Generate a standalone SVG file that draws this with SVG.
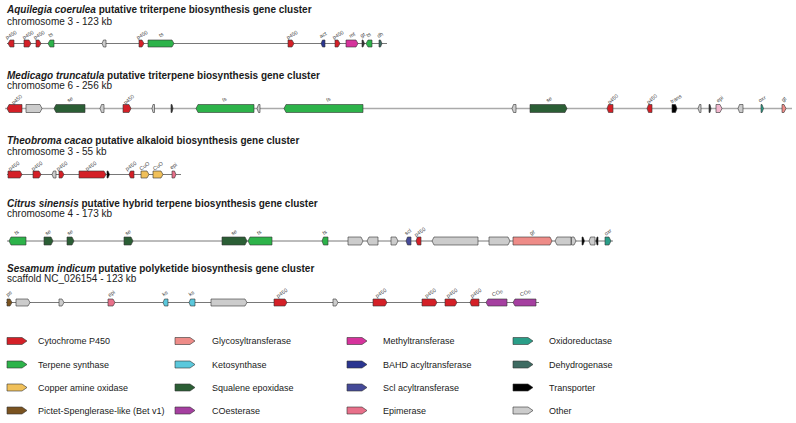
<svg xmlns="http://www.w3.org/2000/svg" width="796" height="423" viewBox="0 0 796 423">
<style>
text{font-family:"Liberation Sans",Arial,sans-serif;fill:#1a1a1a}
.title{font-size:10px;font-weight:bold}
.sub{font-size:10px}
.lg{font-size:9px}
.lb{font-size:5.4px;fill:#444;text-anchor:middle}
.ln{stroke:#555;stroke-width:0.8;fill:none}
.ln2{stroke:#aaa;stroke-width:1.5;fill:none}
polygon{stroke:#333;stroke-width:0.6}
.p450{fill:#d42027}.ts{fill:#2db34a}.cuo{fill:#f0c05a}.ps{fill:#7a5320}
.gt{fill:#ee8c88}.ks{fill:#5bc8dc}.se{fill:#2b5e35}.coe{fill:#a53fa0}
.mt{fill:#d6339c}.bahd{fill:#2a3590}.scl{fill:#454a98}.epi{fill:#e8708a}
.oxr{fill:#2a9e88}.dh{fill:#3e6b62}.tr{fill:#000}.oth{fill:#cccccc}.dk{fill:#333}.epl{fill:#f2b8cf}
</style>

<g id="connectors">
<line class="ln" x1="7" y1="43.5" x2="387" y2="43.5"/>
<line class="ln2" x1="5" y1="108.5" x2="792" y2="108.5"/>
<line class="ln" x1="7" y1="174.5" x2="181" y2="174.5"/>
<line class="ln" x1="7" y1="241" x2="613" y2="241"/>
<line class="ln" x1="6" y1="302.5" x2="539" y2="302.5"/>
</g>

<g id="track1">
<text class="title" x="7" y="12.5"><tspan font-style="italic">Aquilegia coerulea</tspan> putative triterpene biosynthesis gene cluster</text>
<text class="sub" x="7" y="25">chromosome 3 - 123 kb</text>
<g id="t1g1"><polygon class="p450" points="8,43.5 10,40 14,40 14,47 10,47"/><text class="lb" transform="rotate(-30 12 36.5)" x="12" y="36.5">p450</text></g>
<g id="t1g2"><polygon class="p450" points="24,40 29,40 31,43.5 29,47 24,47"/><text class="lb" transform="rotate(-30 29 36.5)" x="29" y="36.5">p450</text></g>
<g id="t1g3"><polygon class="p450" points="36,40 39,40 41,43.5 39,47 36,47"/><text class="lb" transform="rotate(-30 40 36.5)" x="40" y="36.5">p450</text></g>
<g id="t1g4"><polygon class="ts" points="48,43.5 50,40 54,40 54,47 50,47"/><text class="lb" transform="rotate(-30 51.5 36.5)" x="51.5" y="36.5">ts</text></g>
<g id="t1g5"><polygon class="oth" points="102,43.5 103.5,40 106,40 106,47 103.5,47"/></g>
<g id="t1g6"><polygon class="p450" points="139,40 142,40 144,43.5 142,47 139,47"/><text class="lb" transform="rotate(-30 143 36.5)" x="143" y="36.5">p450</text></g>
<g id="t1g7"><polygon class="ts" points="148,40 172,40 174,43.5 172,47 148,47"/><text class="lb" transform="rotate(-30 162 36.5)" x="162" y="36.5">ts</text></g>
<g id="t1g8"><polygon class="p450" points="288,40 292,40 294,43.5 292,47 288,47"/><text class="lb" transform="rotate(-30 293 36.5)" x="293" y="36.5">p450</text></g>
<g id="t1g9"><polygon class="bahd" points="321,43.5 322.5,40 325,40 325,47 322.5,47"/><text class="lb" transform="rotate(-30 324 36.5)" x="324" y="36.5">act</text></g>
<g id="t1g10"><polygon class="p450" points="335,40 338,40 340,43.5 338,47 335,47"/><text class="lb" transform="rotate(-30 339 36.5)" x="339" y="36.5">p450</text></g>
<g id="t1g11"><polygon class="mt" points="346,40 356,40 358,43.5 356,47 346,47"/><text class="lb" transform="rotate(-30 353 36.5)" x="353" y="36.5">mt</text></g>
<g id="t1g12"><polygon class="dk" points="362,40 363,40 364.5,43.5 363,47 362,47"/><text class="lb" transform="rotate(-30 363.5 36.5)" x="363.5" y="36.5">gt</text></g>
<g id="t1g13"><polygon class="ts" points="366,43.5 368,40 372,40 372,47 368,47"/><text class="lb" transform="rotate(-30 369.5 36.5)" x="369.5" y="36.5">ts</text></g>
<g id="t1g14"><polygon class="dh" points="379,40 380.5,40 382,43.5 380.5,47 379,47"/><text class="lb" transform="rotate(-30 381 36.5)" x="381" y="36.5">dh</text></g>
</g>

<g id="track2">
<text class="title" x="7" y="78.5"><tspan font-style="italic">Medicago truncatula</tspan> putative triterpene biosynthesis gene cluster</text>
<text class="sub" x="7" y="89">chromosome 6 - 256 kb</text>
<g id="t2g1"><polygon class="p450" points="7,108.5 9,104.5 22,104.5 22,112.5 9,112.5"/><text class="lb" transform="rotate(-40 18 101)" x="18" y="101">p450</text></g>
<g id="t2g2"><polygon class="oth" points="26,104.5 40,104.5 42,108.5 40,112.5 26,112.5"/></g>
<g id="t2g3"><polygon class="se" points="54,108.5 56,104.5 85,104.5 85,112.5 56,112.5"/><text class="lb" transform="rotate(-30 71 101)" x="71" y="101">se</text></g>
<g id="t2g4"><polygon class="oth" points="100,108.5 101.5,104.5 104,104.5 104,112.5 101.5,112.5"/></g>
<g id="t2g5"><polygon class="p450" points="123,104.5 129,104.5 131,108.5 129,112.5 123,112.5"/><text class="lb" transform="rotate(-40 130 101)" x="130" y="101">p450</text></g>
<g id="t2g6"><polygon class="oth" points="152,108.5 153,104.5 154.5,104.5 154.5,112.5 153,112.5"/></g>
<g id="t2g7"><polygon class="dk" points="171,104.5 172,104.5 173,108.5 172,112.5 171,112.5"/></g>
<g id="t2g8"><polygon class="ts" points="196,108.5 198,104.5 254,104.5 254,112.5 198,112.5"/><text class="lb" transform="rotate(-20 225 101)" x="225" y="101">ts</text></g>
<g id="t2g9"><polygon class="oth" points="257,108.5 258.5,104.5 260,104.5 260,112.5 258.5,112.5"/></g>
<g id="t2g10"><polygon class="ts" points="284,108.5 286,104.5 363,104.5 363,112.5 286,112.5"/><text class="lb" transform="rotate(-20 329 101)" x="329" y="101">ts</text></g>
<g id="t2g11"><polygon class="oth" points="512,108.5 513.5,104.5 516,104.5 516,112.5 513.5,112.5"/></g>
<g id="t2g12"><polygon class="se" points="530,104.5 565,104.5 567,108.5 565,112.5 530,112.5"/><text class="lb" transform="rotate(-30 550 101)" x="550" y="101">se</text></g>
<g id="t2g13"><polygon class="p450" points="607,108.5 608.5,104.5 613,104.5 613,112.5 608.5,112.5"/><text class="lb" transform="rotate(-40 614 100.5)" x="614" y="100.5">p450</text></g>
<g id="t2g14"><polygon class="p450" points="647,108.5 648.5,104.5 652,104.5 652,112.5 648.5,112.5"/><text class="lb" transform="rotate(-40 653 100.5)" x="653" y="100.5">p450</text></g>
<g id="t2g15"><polygon class="tr" points="672,104.5 675.5,104.5 677,108.5 675.5,112.5 672,112.5"/><text class="lb" transform="rotate(-30 677 100.5)" x="677" y="100.5">trans</text></g>
<g id="t2g16"><polygon class="oth" points="698,108.5 699.5,104.5 701,104.5 701,112.5 699.5,112.5"/></g>
<g id="t2g17"><polygon class="dk" points="709,104.5 710,104.5 711,108.5 710,112.5 709,112.5"/></g>
<g id="t2g18"><polygon class="epl" points="716,104.5 720,104.5 722,108.5 720,112.5 716,112.5"/><text class="lb" transform="rotate(-40 721 100.5)" x="721" y="100.5">epi</text></g>
<g id="t2g19"><polygon class="oth" points="738,108.5 739.5,104.5 743,104.5 743,112.5 739.5,112.5"/></g>
<g id="t2g20"><polygon class="oxr" points="761,104.5 762,104.5 763.5,108.5 762,112.5 761,112.5"/><text class="lb" transform="rotate(-30 763 100.5)" x="763" y="100.5">oxr</text></g>
<g id="t2g21"><polygon class="gt" points="782,104.5 784,104.5 786,108.5 784,112.5 782,112.5"/><text class="lb" transform="rotate(-40 785 100.5)" x="785" y="100.5">gt</text></g>
</g>

<g id="track3">
<text class="title" x="7" y="143.5"><tspan font-style="italic">Theobroma cacao</tspan> putative alkaloid biosynthesis gene cluster</text>
<text class="sub" x="7" y="154.5">chromosome 3 - 55 kb</text>
<g id="t3g1"><polygon class="p450" points="8,171 20,171 22,174.5 20,178 8,178"/><text class="lb" transform="rotate(-35 15 167.5)" x="15" y="167.5">p450</text></g>
<g id="t3g2"><polygon class="p450" points="33,171 39,171 41,174.5 39,178 33,178"/><text class="lb" transform="rotate(-35 38 167.5)" x="38" y="167.5">p450</text></g>
<g id="t3g3"><polygon class="oth" points="52,174.5 53.5,171 56,171 56,178 53.5,178"/></g>
<g id="t3g4"><polygon class="p450" points="59,171 62,171 64,174.5 62,178 59,178"/><text class="lb" transform="rotate(-35 63 167.5)" x="63" y="167.5">p450</text></g>
<g id="t3g5"><polygon class="p450" points="79,171 104,171 106,174.5 104,178 79,178"/><text class="lb" transform="rotate(-35 92 167.5)" x="92" y="167.5">p450</text></g>
<g id="t3g6"><polygon class="tr" points="107,171 108,171 109.5,174.5 108,178 107,178"/></g>
<g id="t3g7"><polygon class="p450" points="129,174.5 130.5,171 134,171 134,178 130.5,178"/><text class="lb" transform="rotate(-35 132 167.5)" x="132" y="167.5">p450</text></g>
<g id="t3g8"><polygon class="cuo" points="141,171 147,171 149,174.5 147,178 141,178"/><text class="lb" transform="rotate(-35 145.5 167.5)" x="145.5" y="167.5">CuO</text></g>
<g id="t3g9"><polygon class="cuo" points="153,171 161,171 163,174.5 161,178 153,178"/><text class="lb" transform="rotate(-35 159 167.5)" x="159" y="167.5">CuO</text></g>
<g id="t3g10"><polygon class="epi" points="172,171 174.5,171 176,174.5 174.5,178 172,178"/><text class="lb" transform="rotate(-35 174.5 167.5)" x="174.5" y="167.5">epi</text></g>
</g>

<g id="track4">
<text class="title" x="7" y="206.5"><tspan font-style="italic">Citrus sinensis</tspan> putative hybrid terpene biosynthesis gene cluster</text>
<text class="sub" x="7" y="216.5">chromosome 4 - 173 kb</text>
<g id="t4g1"><polygon class="ts" points="9,241 11,237 26,237 26,245 11,245"/><text class="lb" transform="rotate(-30 17.5 234)" x="17.5" y="234">ts</text></g>
<g id="t4g2"><polygon class="se" points="44,237 51,237 53,241 51,245 44,245"/><text class="lb" transform="rotate(-30 49 234)" x="49" y="234">se</text></g>
<g id="t4g3"><polygon class="se" points="67,237 72,237 74,241 72,245 67,245"/><text class="lb" transform="rotate(-30 71 234)" x="71" y="234">se</text></g>
<g id="t4g4"><polygon class="se" points="124,237 131,237 133,241 131,245 124,245"/><text class="lb" transform="rotate(-30 129 234)" x="129" y="234">se</text></g>
<g id="t4g5"><polygon class="se" points="222,237 245,237 247,241 245,245 222,245"/><text class="lb" transform="rotate(-30 235 234)" x="235" y="234">se</text></g>
<g id="t4g6"><polygon class="ts" points="248,241 250,237 272,237 272,245 250,245"/><text class="lb" transform="rotate(-30 260 234)" x="260" y="234">ts</text></g>
<g id="t4g7"><polygon class="ts" points="322,241 323.5,237 328,237 328,245 323.5,245"/><text class="lb" transform="rotate(-30 325.5 234)" x="325.5" y="234">ts</text></g>
<g id="t4g8"><polygon class="oth" points="348,237 361,237 363,241 361,245 348,245"/></g>
<g id="t4g9"><polygon class="oth" points="367,241 369,237 378,237 378,245 369,245"/></g>
<g id="t4g10"><polygon class="oth" points="391,237 396,237 398,241 396,245 391,245"/></g>
<g id="t4g11"><polygon class="scl" points="406,241 407.5,237 411,237 411,245 407.5,245"/><text class="lb" transform="rotate(-35 409 233.5)" x="409" y="233.5">scl</text></g>
<g id="t4g12"><polygon class="p450" points="416,241 417.5,237 421,237 421,245 417.5,245"/><text class="lb" transform="rotate(-35 421 233.5)" x="421" y="233.5">p450</text></g>
<g id="t4g13"><polygon class="oth" points="432,241 434,237 478,237 478,245 434,245"/></g>
<g id="t4g14"><polygon class="oth" points="489,237 508,237 510,241 508,245 489,245"/></g>
<g id="t4g15"><polygon class="gt" points="513,237 550,237 552,241 550,245 513,245"/><text class="lb" transform="rotate(-30 533 234)" x="533" y="234">gt</text></g>
<g id="t4g16"><polygon class="oth" points="555,241 557,237 571,237 571,245 557,245"/></g>
<g id="t4g17"><polygon class="oth" points="571.5,237 574,237 576,241 574,245 571.5,245"/></g>
<g id="t4g18"><polygon class="tr" points="582,237 583,237 584.5,241 583,245 582,245"/></g>
<g id="t4g19"><polygon class="oth" points="589,241 590.5,237 595,237 595,245 590.5,245"/></g>
<g id="t4g20"><polygon class="tr" points="596,241 597,237 598,237 598,245 597,245"/></g>
<g id="t4g21"><polygon class="oxr" points="605,237 609,237 611,241 609,245 605,245"/><text class="lb" transform="rotate(-35 609 233.5)" x="609" y="233.5">oxr</text></g>
</g>

<g id="track5">
<text class="title" x="7" y="271.5"><tspan font-style="italic">Sesamum indicum</tspan> putative polyketide biosynthesis gene cluster</text>
<text class="sub" x="7" y="281.5">scaffold NC_026154 - 123 kb</text>
<g id="t5g1"><polygon class="ps" points="7,299 10,299 12,302.5 10,306 7,306"/><text class="lb" transform="rotate(-35 10 295)" x="10" y="295">ps</text></g>
<g id="t5g2"><polygon class="oth" points="16,299 28,299 30,302.5 28,306 16,306"/></g>
<g id="t5g3"><polygon class="oth" points="59,299 62,299 64,302.5 62,306 59,306"/></g>
<g id="t5g4"><polygon class="epi" points="108,299 113,299 115,302.5 113,306 108,306"/><text class="lb" transform="rotate(-35 112.5 295)" x="112.5" y="295">epi</text></g>
<g id="t5g5"><polygon class="ks" points="163,302.5 164.5,299 168,299 168,306 164.5,306"/><text class="lb" transform="rotate(-35 166 295)" x="166" y="295">ks</text></g>
<g id="t5g6"><polygon class="ks" points="189,302.5 190.5,299 195,299 195,306 190.5,306"/><text class="lb" transform="rotate(-35 192.5 295)" x="192.5" y="295">ks</text></g>
<g id="t5g7"><polygon class="oth" points="211,299 245,299 247,302.5 245,306 211,306"/></g>
<g id="t5g8"><polygon class="p450" points="274,299 285,299 287,302.5 285,306 274,306"/><text class="lb" transform="rotate(-35 283 294.5)" x="283" y="294.5">p450</text></g>
<g id="t5g9"><polygon class="oth" points="333,299 336,299 338,302.5 336,306 333,306"/></g>
<g id="t5g10"><polygon class="p450" points="373,299 385,299 387,302.5 385,306 373,306"/><text class="lb" transform="rotate(-35 382 294.5)" x="382" y="294.5">p450</text></g>
<g id="t5g11"><polygon class="p450" points="422,299 435,299 437,302.5 435,306 422,306"/><text class="lb" transform="rotate(-35 431.5 294.5)" x="431.5" y="294.5">p450</text></g>
<g id="t5g12"><polygon class="p450" points="445,299 455,299 457,302.5 455,306 445,306"/><text class="lb" transform="rotate(-35 453 294.5)" x="453" y="294.5">p450</text></g>
<g id="t5g13"><polygon class="p450" points="470,302.5 471.5,299 479,299 479,306 471.5,306"/><text class="lb" transform="rotate(-35 477 294.5)" x="477" y="294.5">p450</text></g>
<g id="t5g14"><polygon class="coe" points="486,302.5 488,299 507,299 507,306 488,306"/><text class="lb" transform="rotate(-20 498 294.5)" x="498" y="294.5">COe</text></g>
<g id="t5g15"><polygon class="coe" points="513,302.5 515,299 536,299 536,306 515,306"/><text class="lb" transform="rotate(-20 526 294.5)" x="526" y="294.5">COe</text></g>
</g>

<g id="legend">
<defs><polygon id="la" points="0,-3.5 15,-3.5 20,0 15,3.5 0,3.5"/></defs>
<g id="lg1"><use href="#la" x="7" y="341" class="p450"/><text class="lg" x="38" y="344">Cytochrome P450</text></g>
<g id="lg2"><use href="#la" x="7" y="364.5" class="ts"/><text class="lg" x="38" y="367.5">Terpene synthase</text></g>
<g id="lg3"><use href="#la" x="7" y="387.5" class="cuo"/><text class="lg" x="38" y="390.5">Copper amine oxidase</text></g>
<g id="lg4"><use href="#la" x="7" y="410.5" class="ps"/><text class="lg" x="38" y="413.5">Pictet-Spenglerase-like (Bet v1)</text></g>
<g id="lg5"><use href="#la" x="175" y="341" class="gt"/><text class="lg" x="212" y="344">Glycosyltransferase</text></g>
<g id="lg6"><use href="#la" x="175" y="364.5" class="ks"/><text class="lg" x="212" y="367.5">Ketosynthase</text></g>
<g id="lg7"><use href="#la" x="175" y="387.5" class="se"/><text class="lg" x="212" y="390.5">Squalene epoxidase</text></g>
<g id="lg8"><use href="#la" x="175" y="410.5" class="coe"/><text class="lg" x="212" y="413.5">COesterase</text></g>
<g id="lg9"><use href="#la" x="347" y="341" class="mt"/><text class="lg" x="383" y="344">Methyltransferase</text></g>
<g id="lg10"><use href="#la" x="347" y="364.5" class="bahd"/><text class="lg" x="383" y="367.5">BAHD acyltransferase</text></g>
<g id="lg11"><use href="#la" x="347" y="387.5" class="scl"/><text class="lg" x="383" y="390.5">Scl acyltransferase</text></g>
<g id="lg12"><use href="#la" x="347" y="410.5" class="epi"/><text class="lg" x="383" y="413.5">Epimerase</text></g>
<g id="lg13"><use href="#la" x="513" y="341" class="oxr"/><text class="lg" x="549" y="344">Oxidoreductase</text></g>
<g id="lg14"><use href="#la" x="513" y="364.5" class="dh"/><text class="lg" x="549" y="367.5">Dehydrogenase</text></g>
<g id="lg15"><use href="#la" x="513" y="387.5" class="tr"/><text class="lg" x="549" y="390.5">Transporter</text></g>
<g id="lg16"><use href="#la" x="513" y="410.5" class="oth"/><text class="lg" x="549" y="413.5">Other</text></g>
</g>
</svg>
